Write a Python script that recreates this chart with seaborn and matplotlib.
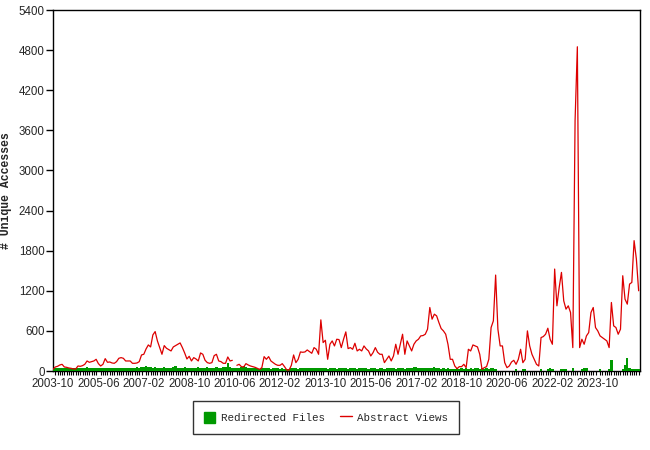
import numpy as np
import pandas as pd
import matplotlib
matplotlib.use("Agg")
import matplotlib.pyplot as plt
import seaborn as sns
from matplotlib.ticker import FixedLocator
from matplotlib.patches import Patch
from matplotlib.lines import Line2D

# ---- data (monthly, starting 2003-10) ----
tick_labels = ["2003-10", "2005-06", "2007-02", "2008-10", "2010-06", "2012-02",
               "2013-10", "2015-06", "2017-02", "2018-10", "2020-06", "2022-02", "2023-10"]

abstract_views = [
    25, 60, 70, 90, 100, 60, 55, 45, 40, 30,                # 0-9
    30, 75, 70, 80, 100, 150, 130, 140, 150, 175,           # 10-19
    110, 75, 100, 185, 130, 135, 120, 115, 140, 190,        # 20-29
    200, 190, 150, 150, 150, 115, 115, 120, 140, 240,       # 30-39
    250, 330, 390, 360, 540, 590, 450, 350, 250, 380,       # 40-49
    340, 320, 300, 360, 380, 400, 420, 350, 270, 180,       # 50-59
    220, 150, 200, 180, 150, 270, 250, 160, 125, 115,       # 60-69
    125, 230, 250, 150, 140, 115, 115, 210, 150, 160,       # 70-79
    np.nan, 85, 100, 65, 60, 110, 90, 75, 65, 55,           # 80-89
    40, 25, 50, 215, 175, 215, 150, 125, 100, 85,           # 90-99
    85, 110, 65, 15, 15, 85, 240, 125, 175, 285,            # 100-109
    280, 285, 315, 290, 265, 350, 325, 250, 765, 425,       # 110-119
    460, 175, 400, 450, 375, 475, 470, 350, 475, 585,       # 120-129
    335, 350, 325, 415, 300, 325, 300, 375, 330, 300,       # 130-139
    225, 275, 350, 280, 250, 250, 125, 175, 225, 150,       # 140-149
    225, 400, 250, 400, 550, 250, 450, 375, 300, 400,       # 150-159
    450, 475, 525, 530, 550, 625, 950, 775, 850, 825,       # 160-169
    725, 635, 600, 550, 400, 175, 175, 75, 35, 65,          # 170-179
    65, 100, 50, 325, 300, 390, 375, 360, 250, 25,          # 180-189
    50, 65, 175, 650, 750, 1435, 625, 375, 375, 125,        # 190-199
    50, 75, 135, 160, 100, 175, 325, 125, 175, 600,         # 200-209
    375, 250, 175, 100, 75, 500, 515, 550, 640, 475,        # 210-219
    400, 1525, 975, 1250, 1475, 1050, 925, 975, 875, 350,   # 220-229
    3750, 4850, 350, 475, 400, 525, 575, 875, 950, 650,     # 230-239
    600, 525, 500, 475, 450, 350, 1025, 675, 650, 550,      # 240-249
    625, 1425, 1075, 1000, 1300, 1325, 1950, 1675, 1200,    # 250-258
]

redirected_files = [
    30, 45, 50, 45, 50, 45, 40, 45, 50, 45,
    40, 45, 50, 45, 50, 55, 50, 45, 50, 45,
    50, 45, 40, 45, 50, 45, 50, 45, 40, 45,
    50, 45, 50, 45, 40, 45, 50, 55, 50, 55,
    60, 70, 65, 55, 50, 55, 50, 45, 50, 55,
    50, 45, 50, 55, 70, 50, 45, 50, 55, 50,
    45, 50, 45, 50, 55, 50, 45, 50, 55, 50,
    45, 50, 55, 50, 45, 55, 60, 120, 55, 50,
    40, 45, 50, 60, 75, 65, 50, 45, 40, 45,
    40, 35, 40, 45, 40, 40, 35, 40, 45, 40,
    35, 40, 35, 30, 35, 40, 45, 40, 35, 40,
    45, 40, 40, 45, 40, 50, 45, 40, 40, 45,
    40, 35, 40, 45, 40, 35, 40, 45, 40, 40,
    35, 40, 45, 40, 35, 40, 40, 45, 40, 35,
    40, 45, 40, 35, 40, 40, 35, 40, 45, 40,
    40, 35, 40, 45, 40, 35, 40, 45, 50, 60,
    60, 50, 45, 40, 45, 40, 45, 50, 60, 45,
    40, 35, 40, 35, 40, 35, 30, 35, 40, 35,
    40, 35, 40, 35, 40, 35, 40, 40, 35, 40,
    35, 40, 35, 40, 40, 35, 0, 0, 0, 0,
    0, 0, 0, 0, 25, 0, 0, 25, 30, 0,
    0, 0, 0, 0, 0, 25, 0, 0, 30, 45,
    30, 0, 0, 0, 25, 30, 25, 0, 0, 45,
    0, 0, 0, 25, 45, 40, 0, 0, 0, 0,
    0, 25, 0, 0, 0, 25, 160, 0, 0, 0,
    0, 25, 90, 190, 45, 25, 25, 25, 25,
]

n = len(abstract_views)
months = np.arange(n)

views_df = pd.DataFrame({"month": months, "views": abstract_views})
views_df["seg"] = (views_df["views"].isna()).cumsum()
views_df = views_df.dropna()
files_df = pd.DataFrame({"month": months, "files": redirected_files[:n]})

# ---- figure ----
sns.set_style("white")
plt.rcParams["font.family"] = ["Liberation Sans", "DejaVu Sans"]

fig = plt.figure(figsize=(6.5, 4.5), dpi=100)
ax = fig.add_axes([53 / 650, 1 - 371 / 450, (640 - 53) / 650, (371 - 10) / 450])

green = "#009900"
red = "#dd0000"

ax.bar(files_df["month"], files_df["files"], width=1.0, align="center",
       color=green, linewidth=0, zorder=3)
sns.lineplot(data=views_df, x="month", y="views", units="seg", estimator=None,
             color=red, linewidth=0.9, ax=ax, zorder=4)

ax.set_xlim(0, n - 0.4)
ax.set_ylim(0, 5400)
ax.yaxis.set_major_locator(FixedLocator(np.arange(0, 5401, 600)))
ax.xaxis.set_major_locator(FixedLocator(np.arange(0, 20 * len(tick_labels), 20)))
ax.set_xticklabels(tick_labels)
ax.xaxis.set_minor_locator(FixedLocator(np.arange(0, n)))

ax.tick_params(axis="x", which="major", direction="inout", length=8, width=1,
               labelsize=8.3, pad=1, color="black")
ax.tick_params(axis="x", which="minor", direction="out", length=3, width=0.8,
               color="black", bottom=True)
ax.tick_params(axis="y", which="major", direction="out", length=5, width=1,
               labelsize=8.3, pad=1, left=True, color="black")

for s in ax.spines.values():
    s.set_color("black")
    s.set_linewidth(1)
    s.set_visible(True)

ax.set_xlabel("")
ax.set_ylabel("# Unique Accesses", family=["Liberation Mono", "DejaVu Sans Mono"],
              fontweight="bold", fontsize=8.3)
ax.yaxis.set_label_coords((12 - 53) / 587, 0.5)
ax.grid(False)

handles = [Patch(facecolor=green, edgecolor=green),
           Line2D([0], [0], color=red, linewidth=1)]
leg = fig.legend(handles, ["Redirected Files", "Abstract Views"],
                 loc="center", bbox_to_anchor=(326 / 650, 1 - 417.5 / 450),
                 ncol=2, frameon=True, fancybox=False, shadow=False,
                 prop={"family": ["Liberation Mono", "DejaVu Sans Mono"], "size": 7.8},
                 handlelength=1.1, handleheight=1.3, columnspacing=1.4,
                 borderpad=1.0, handletextpad=0.5, borderaxespad=0)
leg.get_frame().set_edgecolor("black")
leg.get_frame().set_linewidth(1)

fig.savefig("out.png", dpi=100)
